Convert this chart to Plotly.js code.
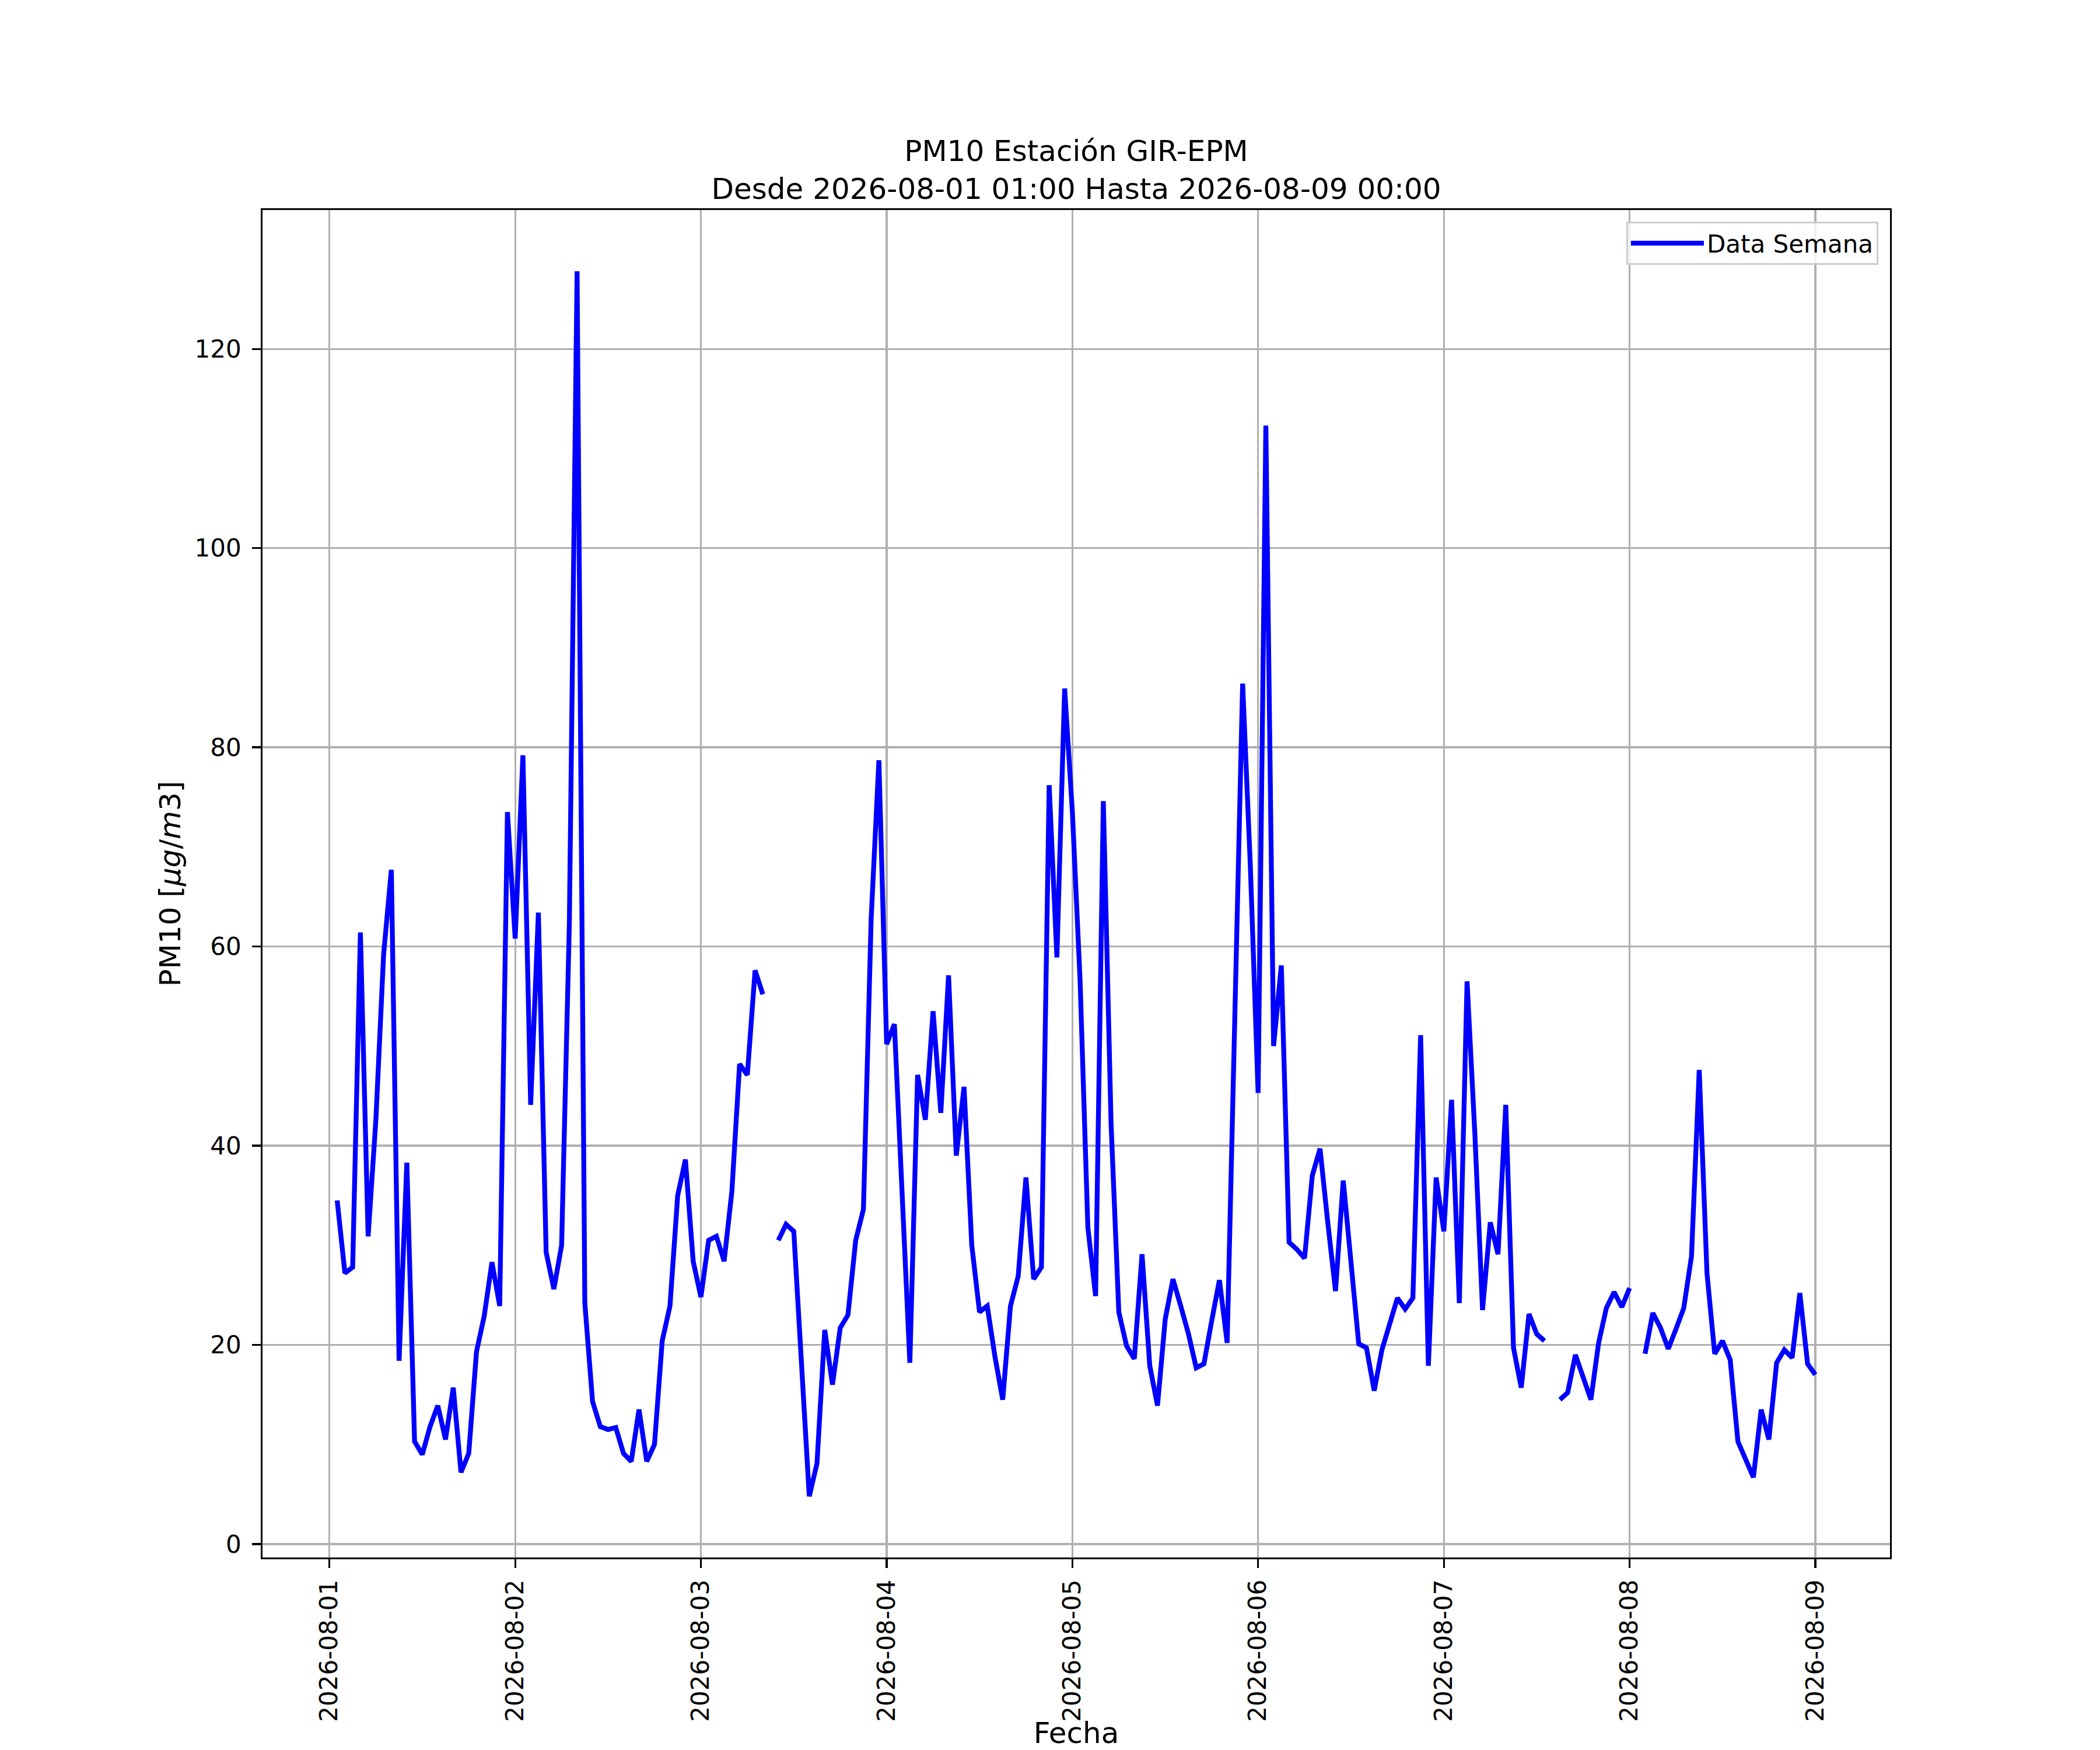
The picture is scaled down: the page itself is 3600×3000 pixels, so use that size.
<!DOCTYPE html>
<html>
<head>
<meta charset="utf-8">
<script src="https://cdn.plot.ly/plotly-3.0.1.min.js"></script>
<style>
  body { margin: 0; background: #fff; }
  #chart { width: 3600px; height: 3000px; }
</style>
</head>
<body>
<div id="chart"></div>
<script>
// hourly PM10, each array runs 01:00 of that day to 00:00 of the next one
var day01 = [34.5, 27.2, 27.8, 61.4, 30.9, 42.6, 59.2, 67.7, 18.4, 38.3, 10.3, 9.0,
             11.8, 13.9, 10.5, 15.7, 7.2, 9.1, 19.3, 22.9, 28.3, 23.9, 73.5, 60.8]
var day02 = [79.2, 44.1, 63.4, 29.3, 25.6, 30.0, 62.3, 127.8, 24.2, 14.3, 11.8, 11.5,
             11.7, 9.1, 8.3, 13.5, 8.3, 10.0, 20.4, 23.9, 35.0, 38.6, 28.4, 24.8]
var day03 = [30.5, 30.9, 28.4, 35.4, 48.2, 47.1, 57.6, 55.2, null, 30.5, 32.1, 31.4,
             18.5, 4.8, 8.1, 21.5, 16.0, 21.7, 23.0, 30.5, 33.6, 62.8, 78.7, 50.2]
var day04 = [52.2, 35.0, 18.2, 47.1, 42.6, 53.5, 43.3, 57.1, 39.0, 45.9, 30.0, 23.3,
             23.9, 18.8, 14.5, 23.9, 26.9, 36.8, 26.6, 27.8, 76.2, 58.9, 85.9, 73.5]
var day05 = [56.5, 31.8, 24.9, 74.6, 42.2, 23.3, 19.9, 18.6, 29.1, 17.9, 13.9, 22.6,
             26.6, 23.9, 21.1, 17.7, 18.1, 22.4, 26.5, 20.2, 53.0, 86.4, 68.0, 45.3]
var day06 = [112.3, 50.0, 58.1, 30.3, 29.6, 28.7, 37.0, 39.7, 32.3, 25.4, 36.5, 27.8,
             20.1, 19.7, 15.4, 19.5, 22.2, 24.7, 23.6, 24.7, 51.1, 17.9, 36.8, 31.4]
var day07 = [44.6, 24.2, 56.5, 41.3, 23.5, 32.3, 29.1, 44.1, 19.7, 15.7, 23.1, 21.1,
             20.4, null, 14.5, 15.2, 19.0, 16.8, 14.5, 20.2, 23.7, 25.3, 23.8, 25.7]
var day08 = [null, 19.1, 23.2, 21.7, 19.6, 21.6, 23.7, 28.9, 47.6, 27.2, 19.1, 20.4,
             18.5, 10.3, 8.5, 6.7, 13.5, 10.5, 18.2, 19.5, 18.7, 25.2, 18.1, 17.0]

var days = ['2026-08-01', '2026-08-02', '2026-08-03', '2026-08-04',
            '2026-08-05', '2026-08-06', '2026-08-07', '2026-08-08', '2026-08-09']
var serieName = 'Data Semana'
var titleText = 'PM10 Estación GIR-EPM<br>Desde 2026-08-01 01:00 Hasta 2026-08-09 00:00'

var pm10 = [...day01, ...day02, ...day03, ...day04, ...day05, ...day06, ...day07, ...day08]

function pad(n) { return n < 10 ? '0' + n : '' + n }

// timestamps: one per hour from the first day 01:00
var fechas = []
for (var i = 0; i < pm10.length; i++) {
  var d = new Date(Date.parse(days[0] + 'T00:00:00Z') + (i + 1) * 3600000)
  fechas.push(d.getUTCFullYear() + '-' + pad(d.getUTCMonth() + 1) + '-' + pad(d.getUTCDate()) +
              ' ' + pad(d.getUTCHours()) + ':00')
}

var font = 'DejaVu Sans, Liberation Sans, sans-serif'

Plotly.newPlot(document.getElementById('chart'), [
  {
    x: fechas,
    y: pm10,
    name: serieName,
    mode: 'lines',
    type: 'scatter',
    connectgaps: false,
    showlegend: true,
    line: { color: '#0000ff', width: 8.3 }
  }
], {
  width: 3600,
  height: 3000,
  margin: { l: 450, r: 360, t: 360, b: 330 },
  paper_bgcolor: '#ffffff',
  plot_bgcolor: '#ffffff',
  font: { family: font, size: 42, color: '#000000' },
  title: {
    text: titleText,
    font: { family: font, size: 50, color: '#000000' },
    x: 0.5, xref: 'paper', xanchor: 'center',
    y: 0.908, yref: 'container', yanchor: 'top'
  },
  showlegend: true,
  legend: {
    x: 0.9928, xanchor: 'right',
    y: 0.9913, yanchor: 'top',
    bgcolor: 'rgba(255,255,255,0.8)',
    bordercolor: '#cccccc',
    borderwidth: 3,
    itemwidth: 125,
    font: { family: font, size: 42, color: '#000000' }
  },
  xaxis: {
    type: 'date',
    range: ['2026-07-31 15:21', '2026-08-09 09:39'],
    tickmode: 'array',
    tickvals: days,
    ticktext: days,
    tickangle: -90,
    tickfont: { family: font, size: 42, color: '#000000' },
    ticks: 'outside', ticklen: 14.6, tickwidth: 3.3, tickcolor: '#000000',
    ticklabelstandoff: 3,
    showgrid: true, gridcolor: '#b0b0b0', gridwidth: 3.3,
    zeroline: false,
    showline: true, linecolor: '#000000', linewidth: 3.3, mirror: true,
    automargin: false,
    title: { text: 'Fecha', font: { family: font, size: 50, color: '#000000' }, standoff: 8 }
  },
  yaxis: {
    range: [-1.35, 133.95],
    tickmode: 'linear', tick0: 0, dtick: 20,
    tickfont: { family: font, size: 42, color: '#000000' },
    ticks: 'outside', ticklen: 14.6, tickwidth: 3.3, tickcolor: '#000000',
    ticklabelstandoff: 10,
    showgrid: true, gridcolor: '#b0b0b0', gridwidth: 3.3,
    zeroline: false,
    showline: true, linecolor: '#000000', linewidth: 3.3, mirror: true,
    automargin: false,
    title: { text: 'PM10 [<i>μg</i>/<i>m</i>3]', font: { family: font, size: 50, color: '#000000' }, standoff: 9 }
  }
}, { staticPlot: true })
</script>
</body>
</html>
